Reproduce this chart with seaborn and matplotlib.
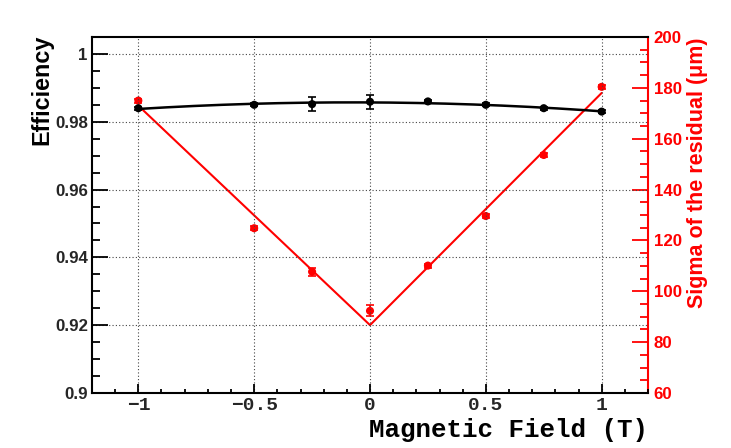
import numpy as np
import pandas as pd
import matplotlib
matplotlib.use("Agg")
import matplotlib.pyplot as plt
import seaborn as sns
from matplotlib.ticker import FixedLocator, MultipleLocator

# Measurements versus magnetic field
field = [-1.0, -0.5, -0.25, 0.0, 0.25, 0.5, 0.75, 1.0]
efficiency = [0.9840, 0.9850, 0.9852, 0.9859, 0.9860, 0.9850, 0.9840, 0.9830]
efficiency_err = [0.0004, 0.0004, 0.0020, 0.0020, 0.0004, 0.0004, 0.0004, 0.0004]
sigma = [175.0, 124.8, 107.7, 92.3, 110.1, 129.6, 153.6, 180.4]
sigma_err = [0.8, 0.8, 1.6, 2.2, 0.8, 0.8, 0.8, 0.8]

# V-shaped fit of the residual width
sigma_fit_field = [-1.0, 0.0, 1.0]
sigma_fit = [173.0, 86.7, 178.0]

# Axis ticks and labels
x_ticks = [-1, -0.5, 0, 0.5, 1]
x_tick_labels = ["\u22121", "\u22120.5", "0", "0.5", "1"]
eff_ticks = [0.90, 0.92, 0.94, 0.96, 0.98, 1.00]
eff_tick_labels = ["0.9", "0.92", "0.94", "0.96", "0.98", "1"]
sigma_ticks = [60, 80, 100, 120, 140, 160, 180, 200]
sigma_tick_labels = ["60", "80", "100", "120", "140", "160", "180", "200"]

sns.set_theme(style="white")
plt.rcParams["font.family"] = ["Liberation Sans", "DejaVu Sans"]
plt.rcParams["font.weight"] = "bold"

RED = "#ff0000"
MONO = ["Liberation Mono", "DejaVu Sans Mono"]

fig = plt.figure(figsize=(7.31, 4.48), dpi=100)
ax = fig.add_axes([92 / 731, 55 / 448, 556 / 731, 356 / 448])
ax2 = ax.twinx()
ax.set_zorder(ax2.get_zorder() + 1)
ax.patch.set_visible(False)

# Quadratic fit of the efficiency
coef = np.polyfit(field, efficiency, 2)
fit_x = np.linspace(-1.0, 1.0, 200)
eff_fit = pd.DataFrame({"field": fit_x, "eff": np.polyval(coef, fit_x)})

sns.lineplot(data=eff_fit, x="field", y="eff", ax=ax, color="black",
             linewidth=1.8, estimator=None, sort=True)
ax.errorbar(field, efficiency, yerr=efficiency_err, fmt="none",
            ecolor="black", elinewidth=1.2, capsize=3, capthick=1.2)
sns.scatterplot(x=field, y=efficiency, ax=ax, color="black", s=34,
                edgecolor="none", zorder=5)

sig_fit_df = pd.DataFrame({"field": sigma_fit_field, "sigma": sigma_fit})
sns.lineplot(data=sig_fit_df, x="field", y="sigma", ax=ax2, color=RED,
             linewidth=1.5, estimator=None, sort=True)
ax2.errorbar(field, sigma, yerr=sigma_err, fmt="none", ecolor=RED,
             elinewidth=1.2, capsize=3, capthick=1.2)
sns.scatterplot(x=field, y=sigma, ax=ax2, color=RED, s=34,
                edgecolor="none", zorder=5)

# Limits
ax.set_xlim(-1.2, 1.2)
ax.set_ylim(0.9, 1.005)
ax2.set_ylim(60, 200)

# Left and bottom axes
ax.yaxis.set_major_locator(FixedLocator(eff_ticks))
ax.set_yticklabels(eff_tick_labels)
ax.yaxis.set_minor_locator(MultipleLocator(0.005))
ax.xaxis.set_major_locator(FixedLocator(x_ticks))
ax.set_xticklabels(x_tick_labels)
ax.xaxis.set_minor_locator(MultipleLocator(0.1))

ax.tick_params(axis="y", which="major", direction="in", length=11.5,
               width=1.3, color="black", labelsize=12.2, pad=3,
               left=True, right=False)
ax.tick_params(axis="y", which="minor", direction="in", length=5.8,
               width=1.3, color="black", left=True, right=False)
ax.tick_params(axis="x", which="major", direction="in", length=6.5,
               width=1.3, color="black", pad=3, bottom=True, top=False)
ax.tick_params(axis="x", which="minor", direction="in", length=3,
               width=1.3, color="black", bottom=True, top=False)
for lab in ax.get_yticklabels():
    lab.set_fontweight("bold")
for lab in ax.get_xticklabels():
    lab.set_family(MONO)
    lab.set_fontweight("bold")
    lab.set_fontsize(14)

# Right axis
ax2.yaxis.set_major_locator(FixedLocator(sigma_ticks))
ax2.set_yticklabels(sigma_tick_labels)
ax2.yaxis.set_minor_locator(MultipleLocator(5))
ax2.tick_params(axis="y", which="major", direction="in", length=11.5,
                width=1.3, color=RED, labelcolor=RED, labelsize=12.2,
                pad=4, right=True, left=False)
ax2.tick_params(axis="y", which="minor", direction="in", length=5.8,
                width=1.3, color=RED, right=True, left=False)
for lab in ax2.get_yticklabels():
    lab.set_fontweight("bold")

# Grid on major ticks
ax.grid(True, which="major", linestyle=(0, (1, 2)), color="#444444",
        linewidth=0.8)
ax2.grid(False)

# Frame
for name in ["left", "bottom", "top"]:
    ax.spines[name].set_visible(True)
    ax.spines[name].set_color("black")
    ax.spines[name].set_linewidth(1.5)
ax.spines["right"].set_visible(False)
for name in ["left", "bottom", "top"]:
    ax2.spines[name].set_visible(False)
ax2.spines["right"].set_visible(True)
ax2.spines["right"].set_color(RED)
ax2.spines["right"].set_linewidth(1.5)

ax.set_xlabel("")
ax.set_ylabel("")
ax2.set_xlabel("")
ax2.set_ylabel("")

# Axis titles
fig.text(42 / 731, 1 - 35 / 448, "Efficiency", rotation=90, ha="center",
         va="top", fontsize=16.8, fontweight="bold", color="black")
fig.text(698 / 731, 1 - 37 / 448, "Sigma of the residual (\u03bcm)",
         rotation=90, ha="center", va="top", fontsize=15.5,
         fontweight="bold", color=RED)
fig.text(648 / 731, 1 - 437 / 448, "Magnetic Field (T)", ha="right",
         va="baseline", fontsize=18.6, fontweight="bold", color="black",
         family=MONO)

fig.savefig("out.png", dpi=100)
